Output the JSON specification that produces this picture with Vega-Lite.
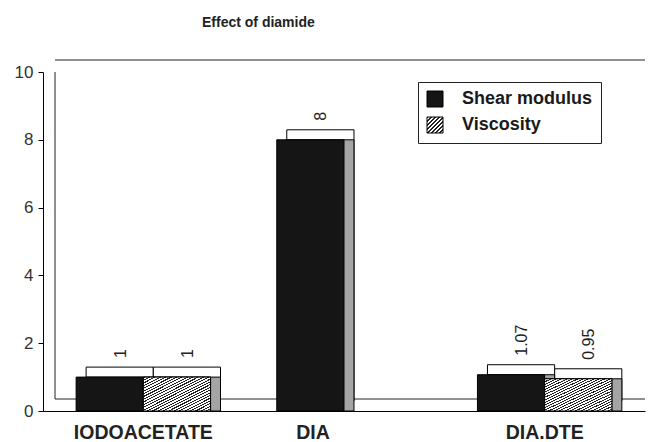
{
  "$schema": "https://vega.github.io/schema/vega-lite/v6.json",
  "width": 602,
  "height": 339,
  "autosize": "none",
  "padding": {"left": 43, "top": 72, "right": 3, "bottom": 31},
  "background": "white",
  "config": {"view": {"stroke": null}, "font": "Liberation Sans"},
  "title": {"text": "Effect of diamide", "anchor": "start", "frame": "group", "dx": 159, "offset": 30, "fontSize": 14, "fontWeight": "bold", "font": "Liberation Sans", "color": "#222"},
  "data": {"values": [
    {"treatment": "IODOACETATE", "series": "Shear modulus", "value": 1, "label": "1"},
    {"treatment": "IODOACETATE", "series": "Viscosity", "value": 1, "label": "1"},
    {"treatment": "DIA", "series": "Shear modulus", "value": 8, "label": "8"},
    {"treatment": "DIA.DTE", "series": "Shear modulus", "value": 1.07, "label": "1.07"},
    {"treatment": "DIA.DTE", "series": "Viscosity", "value": 0.95, "label": "0.95"}
  ]},
  "layer": [
    {
      "data": {"values": [{}]},
      "mark": {"type": "rule", "stroke": "#222", "strokeWidth": 1, "xOffset": 12, "yOffset": -12},
      "encoding": {
        "x": {"datum": 0, "type": "quantitative", "scale": {"domain": [0, 1]}, "axis": null},
        "x2": {"datum": 1},
        "y": {"datum": 10, "type": "quantitative"}
      }
    },
    {
      "data": {"values": [{}]},
      "mark": {"type": "rule", "stroke": "#222", "strokeWidth": 1, "xOffset": 12, "yOffset": -12},
      "encoding": {
        "x": {"datum": 0, "type": "quantitative", "scale": {"domain": [0, 1]}, "axis": null},
        "x2": {"datum": 1},
        "y": {"datum": 0, "type": "quantitative"}
      }
    },
    {
      "data": {"values": [{}]},
      "mark": {"type": "rule", "stroke": "#222", "strokeWidth": 1, "xOffset": 12, "yOffset": -12},
      "encoding": {
        "x": {"datum": 0, "type": "quantitative", "scale": {"domain": [0, 1]}, "axis": null},
        "y": {"datum": 0, "type": "quantitative"},
        "y2": {"datum": 10}
      }
    },
    {
      "layer": [
        {
          "mark": {"type": "bar", "fill": "white", "stroke": "black", "strokeWidth": 1, "yOffset": -10},
          "encoding": {
            "x": {"field": "treatment", "type": "nominal", "sort": ["IODOACETATE", "DIA", "DIA.DTE"], "scale": {"paddingInner": 0.33, "paddingOuter": 0.165},
              "axis": {"title": null, "ticks": false, "labelAngle": 0, "labelFontSize": 19.5, "labelFontWeight": "bold", "labelColor": "#222", "labelPadding": 12, "domainColor": "black", "labelFont": "Liberation Sans",
                "labelOffset": {"condition": {"test": "datum.value === 'DIA'", "value": -31}, "value": 0}}},
            "xOffset": {"field": "series", "type": "nominal", "scale": {"domain": ["Shear modulus", "Viscosity"], "range": [10, 144.4]}},
            "y": {"field": "value", "type": "quantitative", "scale": {"domain": [0, 10], "nice": false},
              "axis": {"title": null, "grid": false, "values": [0, 1, 2, 3, 4, 5, 6, 7, 8, 9, 10], "labelExpr": "datum.value % 2 === 0 ? datum.label : ''", "tickSize": 5, "tickColor": "black", "domainColor": "black", "labelFontSize": 17, "labelColor": "#333", "labelPadding": 5, "labelFont": "Liberation Sans"}}
          }
        },
        {
          "mark": {"type": "bar", "fill": "#a4a4a4", "stroke": "black", "strokeWidth": 1},
          "encoding": {
            "x": {"field": "treatment", "type": "nominal", "sort": ["IODOACETATE", "DIA", "DIA.DTE"]},
            "xOffset": {"field": "series", "type": "nominal", "scale": {"domain": ["Shear modulus", "Viscosity"], "range": [10, 144.4]}},
            "y": {"field": "value", "type": "quantitative"}
          }
        },
        {
          "mark": {"type": "bar", "stroke": "black", "strokeWidth": 1},
          "encoding": {
            "x": {"field": "treatment", "type": "nominal", "sort": ["IODOACETATE", "DIA", "DIA.DTE"]},
            "xOffset": {"field": "series", "type": "nominal", "scale": {"domain": ["Shear modulus", "Viscosity"]}},
            "y": {"field": "value", "type": "quantitative"},
            "fill": {"field": "series", "type": "nominal",
              "scale": {"domain": ["Shear modulus", "Viscosity"], "range": ["#151515", {"expr": "{gradient: 'linear', x1: 0, y1: 0, x2: 1, y2: 1, stops: [{offset: 0, color: '#222'}, {offset: 0.05, color: '#222'}, {offset: 0.05, color: '#fff'}, {offset: 0.125, color: '#fff'}, {offset: 0.125, color: '#222'}, {offset: 0.175, color: '#222'}, {offset: 0.175, color: '#fff'}, {offset: 0.25, color: '#fff'}, {offset: 0.25, color: '#222'}, {offset: 0.3, color: '#222'}, {offset: 0.3, color: '#fff'}, {offset: 0.375, color: '#fff'}, {offset: 0.375, color: '#222'}, {offset: 0.425, color: '#222'}, {offset: 0.425, color: '#fff'}, {offset: 0.5, color: '#fff'}, {offset: 0.5, color: '#222'}, {offset: 0.55, color: '#222'}, {offset: 0.55, color: '#fff'}, {offset: 0.625, color: '#fff'}, {offset: 0.625, color: '#222'}, {offset: 0.675, color: '#222'}, {offset: 0.675, color: '#fff'}, {offset: 0.75, color: '#fff'}, {offset: 0.75, color: '#222'}, {offset: 0.8, color: '#222'}, {offset: 0.8, color: '#fff'}, {offset: 0.875, color: '#fff'}, {offset: 0.875, color: '#222'}, {offset: 0.925, color: '#222'}, {offset: 0.925, color: '#fff'}, {offset: 1, color: '#fff'}]}"}]},
              "legend": {"orient": "none", "legendX": 375, "legendY": 10, "title": null, "labelFont": "Liberation Sans", "labelFontSize": 18, "labelFontWeight": "bold", "labelColor": "#1a1a1a", "symbolType": "square", "symbolSize": 256, "symbolStrokeColor": "black", "symbolStrokeWidth": 1, "labelOffset": 18, "rowPadding": 6, "padding": 8, "strokeColor": "#222", "fillColor": "white", "labelLimit": 300,
                "labelExpr": "datum.label + '\u00a0\u00a0\u00a0\u00a0\u00a0\u00a0'"}}
          }
        },
        {
          "transform": [{"filter": "datum.series === 'Viscosity'"}],
          "mark": {"type": "bar", "stroke": "black", "strokeWidth": 1, "fill": {"gradient": "linear", "x1": 0, "y1": 0, "x2": 1, "y2": 1, "stops": [
            {"offset": 0, "color": "#222"}, {"offset": 0.016, "color": "#222"}, {"offset": 0.016, "color": "#fff"}, {"offset": 0.04, "color": "#fff"},
            {"offset": 0.04, "color": "#222"}, {"offset": 0.056, "color": "#222"}, {"offset": 0.056, "color": "#fff"}, {"offset": 0.08, "color": "#fff"},
            {"offset": 0.08, "color": "#222"}, {"offset": 0.096, "color": "#222"}, {"offset": 0.096, "color": "#fff"}, {"offset": 0.12, "color": "#fff"},
            {"offset": 0.12, "color": "#222"}, {"offset": 0.136, "color": "#222"}, {"offset": 0.136, "color": "#fff"}, {"offset": 0.16, "color": "#fff"},
            {"offset": 0.16, "color": "#222"}, {"offset": 0.176, "color": "#222"}, {"offset": 0.176, "color": "#fff"}, {"offset": 0.2, "color": "#fff"},
            {"offset": 0.2, "color": "#222"}, {"offset": 0.216, "color": "#222"}, {"offset": 0.216, "color": "#fff"}, {"offset": 0.24, "color": "#fff"},
            {"offset": 0.24, "color": "#222"}, {"offset": 0.256, "color": "#222"}, {"offset": 0.256, "color": "#fff"}, {"offset": 0.28, "color": "#fff"},
            {"offset": 0.28, "color": "#222"}, {"offset": 0.296, "color": "#222"}, {"offset": 0.296, "color": "#fff"}, {"offset": 0.32, "color": "#fff"},
            {"offset": 0.32, "color": "#222"}, {"offset": 0.336, "color": "#222"}, {"offset": 0.336, "color": "#fff"}, {"offset": 0.36, "color": "#fff"},
            {"offset": 0.36, "color": "#222"}, {"offset": 0.376, "color": "#222"}, {"offset": 0.376, "color": "#fff"}, {"offset": 0.4, "color": "#fff"},
            {"offset": 0.4, "color": "#222"}, {"offset": 0.416, "color": "#222"}, {"offset": 0.416, "color": "#fff"}, {"offset": 0.44, "color": "#fff"},
            {"offset": 0.44, "color": "#222"}, {"offset": 0.456, "color": "#222"}, {"offset": 0.456, "color": "#fff"}, {"offset": 0.48, "color": "#fff"},
            {"offset": 0.48, "color": "#222"}, {"offset": 0.496, "color": "#222"}, {"offset": 0.496, "color": "#fff"}, {"offset": 0.52, "color": "#fff"},
            {"offset": 0.52, "color": "#222"}, {"offset": 0.536, "color": "#222"}, {"offset": 0.536, "color": "#fff"}, {"offset": 0.56, "color": "#fff"},
            {"offset": 0.56, "color": "#222"}, {"offset": 0.576, "color": "#222"}, {"offset": 0.576, "color": "#fff"}, {"offset": 0.6, "color": "#fff"},
            {"offset": 0.6, "color": "#222"}, {"offset": 0.616, "color": "#222"}, {"offset": 0.616, "color": "#fff"}, {"offset": 0.64, "color": "#fff"},
            {"offset": 0.64, "color": "#222"}, {"offset": 0.656, "color": "#222"}, {"offset": 0.656, "color": "#fff"}, {"offset": 0.68, "color": "#fff"},
            {"offset": 0.68, "color": "#222"}, {"offset": 0.696, "color": "#222"}, {"offset": 0.696, "color": "#fff"}, {"offset": 0.72, "color": "#fff"},
            {"offset": 0.72, "color": "#222"}, {"offset": 0.736, "color": "#222"}, {"offset": 0.736, "color": "#fff"}, {"offset": 0.76, "color": "#fff"},
            {"offset": 0.76, "color": "#222"}, {"offset": 0.776, "color": "#222"}, {"offset": 0.776, "color": "#fff"}, {"offset": 0.8, "color": "#fff"},
            {"offset": 0.8, "color": "#222"}, {"offset": 0.816, "color": "#222"}, {"offset": 0.816, "color": "#fff"}, {"offset": 0.84, "color": "#fff"},
            {"offset": 0.84, "color": "#222"}, {"offset": 0.856, "color": "#222"}, {"offset": 0.856, "color": "#fff"}, {"offset": 0.88, "color": "#fff"},
            {"offset": 0.88, "color": "#222"}, {"offset": 0.896, "color": "#222"}, {"offset": 0.896, "color": "#fff"}, {"offset": 0.92, "color": "#fff"},
            {"offset": 0.92, "color": "#222"}, {"offset": 0.936, "color": "#222"}, {"offset": 0.936, "color": "#fff"}, {"offset": 0.96, "color": "#fff"},
            {"offset": 0.96, "color": "#222"}, {"offset": 0.976, "color": "#222"}, {"offset": 0.976, "color": "#fff"}, {"offset": 1, "color": "#fff"}
          ]}},
          "encoding": {
            "x": {"field": "treatment", "type": "nominal", "sort": ["IODOACETATE", "DIA", "DIA.DTE"]},
            "xOffset": {"field": "series", "type": "nominal", "scale": {"domain": ["Shear modulus", "Viscosity"]}},
            "y": {"field": "value", "type": "quantitative"}
          }
        },
        {
          "mark": {"type": "text", "angle": 270, "align": "left", "baseline": "middle", "dx": 19, "dy": 11, "fontSize": 16, "font": "Liberation Sans", "color": "#222"},
          "encoding": {
            "x": {"field": "treatment", "type": "nominal", "sort": ["IODOACETATE", "DIA", "DIA.DTE"]},
            "xOffset": {"field": "series", "type": "nominal", "scale": {"domain": ["Shear modulus", "Viscosity"]}},
            "y": {"field": "value", "type": "quantitative"},
            "text": {"field": "label", "type": "nominal"}
          }
        }
      ],
      "resolve": {"scale": {"xOffset": "independent"}}
    }
  ],
  "resolve": {"scale": {"x": "independent"}}
}
